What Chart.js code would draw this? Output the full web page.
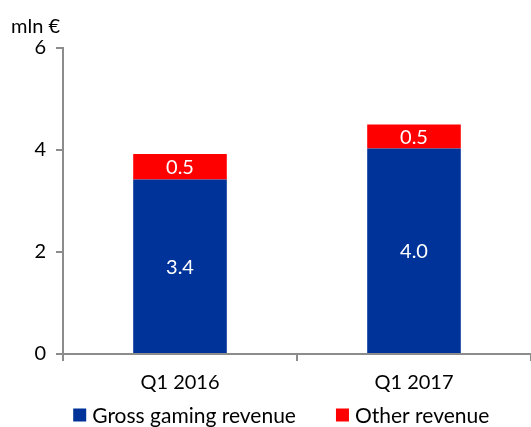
<!DOCTYPE html>
<html>
<head>
<meta charset="utf-8">
<script src="https://cdn.jsdelivr.net/npm/chart.js@4/dist/chart.umd.min.js"></script>
<style>
  html, body { margin: 0; padding: 0; background: #fff; }
  #wrap { width: 531px; height: 427px; position: relative; }
</style>
</head>
<body>
<div id="wrap"><canvas id="revChart"></canvas></div>
<script>
// Quarterly revenue, mln EUR
const quarters = ["Q1 2016", "Q1 2017"];
const grossGaming = [3.42, 4.03];
const otherRevenue = [0.5, 0.47];
const grossLabels = ["3.4", "4.0"];
const otherLabels = ["0.5", "0.5"];
const yTicks = [0, 2, 4, 6];
const unitLabel = "mln €";

const FONT = "Lato, 'Open Sans', sans-serif";

// white value labels inside each bar segment
const barLabels = {
  id: "barLabels",
  afterDatasetsDraw(chart) {
    const ctx = chart.ctx;
    const texts = [grossLabels, otherLabels];
    ctx.save();
    ctx.fillStyle = "#fff";
    ctx.font = "20px " + FONT;
    ctx.textAlign = "center";
    ctx.textBaseline = "middle";
    chart.data.datasets.forEach((ds, i) => {
      chart.getDatasetMeta(i).data.forEach((bar, j) => {
        const mid = (bar.y + bar.base) / 2;
        ctx.fillText(texts[i][j], bar.x, mid + 1);
      });
    });
    ctx.restore();
  }
};

// unit text above the y axis + legend along the bottom
const extras = {
  id: "extras",
  afterDraw(chart) {
    const ctx = chart.ctx;
    ctx.save();
    ctx.fillStyle = "#000";
    ctx.font = "20px " + FONT;
    ctx.textBaseline = "middle";
    ctx.textAlign = "left";
    ctx.fillText(unitLabel, 11, 27);

    // legend
    ctx.font = "21px " + FONT;
    const box = 13, gapText = 6, gapItem = 40;
    const items = chart.data.datasets.map(ds => ({
      text: ds.label, color: ds.backgroundColor, w: ctx.measureText(ds.label).width
    }));
    let total = 0;
    items.forEach((it, i) => { total += box + gapText + it.w + (i ? gapItem : 0); });
    const centre = (chart.width / 2 + (chart.chartArea.left + chart.chartArea.right) / 2) / 2;
    let x = centre - total / 2;
    const y = 415;
    items.forEach(it => {
      ctx.fillStyle = it.color;
      ctx.fillRect(x, y - box / 2, box, box);
      ctx.fillStyle = "#000";
      ctx.fillText(it.text, x + box + gapText, y + 1);
      x += box + gapText + it.w + gapItem;
    });
    ctx.restore();
  }
};

new Chart(document.getElementById("revChart"), {
  type: "bar",
  data: {
    labels: quarters,
    datasets: [
      { label: "Gross gaming revenue", data: grossGaming, backgroundColor: "#003399",
        barPercentage: 0.4, categoryPercentage: 1.0 },
      { label: "Other revenue", data: otherRevenue, backgroundColor: "#ff0000",
        barPercentage: 0.4, categoryPercentage: 1.0 }
    ]
  },
  options: {
    responsive: true,
    maintainAspectRatio: false,
    animation: false,
    layout: { padding: { left: 11, top: 48, right: 0, bottom: 22 } },
    plugins: {
      legend: { display: false },
      title: { display: false },
      tooltip: { enabled: false }
    },
    scales: {
      x: {
        stacked: true,
        grid: { drawOnChartArea: false, drawTicks: true, tickLength: 7, color: "#8c8c8c", lineWidth: 2 },
        border: { color: "#8c8c8c", width: 2 },
        ticks: { color: "#000", font: { family: FONT, size: 20 }, padding: 10 }
      },
      y: {
        stacked: true,
        min: 0,
        max: 6,
        afterBuildTicks(axis) { axis.ticks = yTicks.map(v => ({ value: v })); },
        afterFit(axis) { axis.width = 52; },
        grid: { drawOnChartArea: false, drawTicks: true, tickLength: 7, color: "#8c8c8c", lineWidth: 2 },
        border: { color: "#8c8c8c", width: 2 },
        ticks: { color: "#000", font: { family: FONT, size: 20 }, padding: 10 }
      }
    }
  },
  plugins: [barLabels, extras]
});
</script>
</body>
</html>
